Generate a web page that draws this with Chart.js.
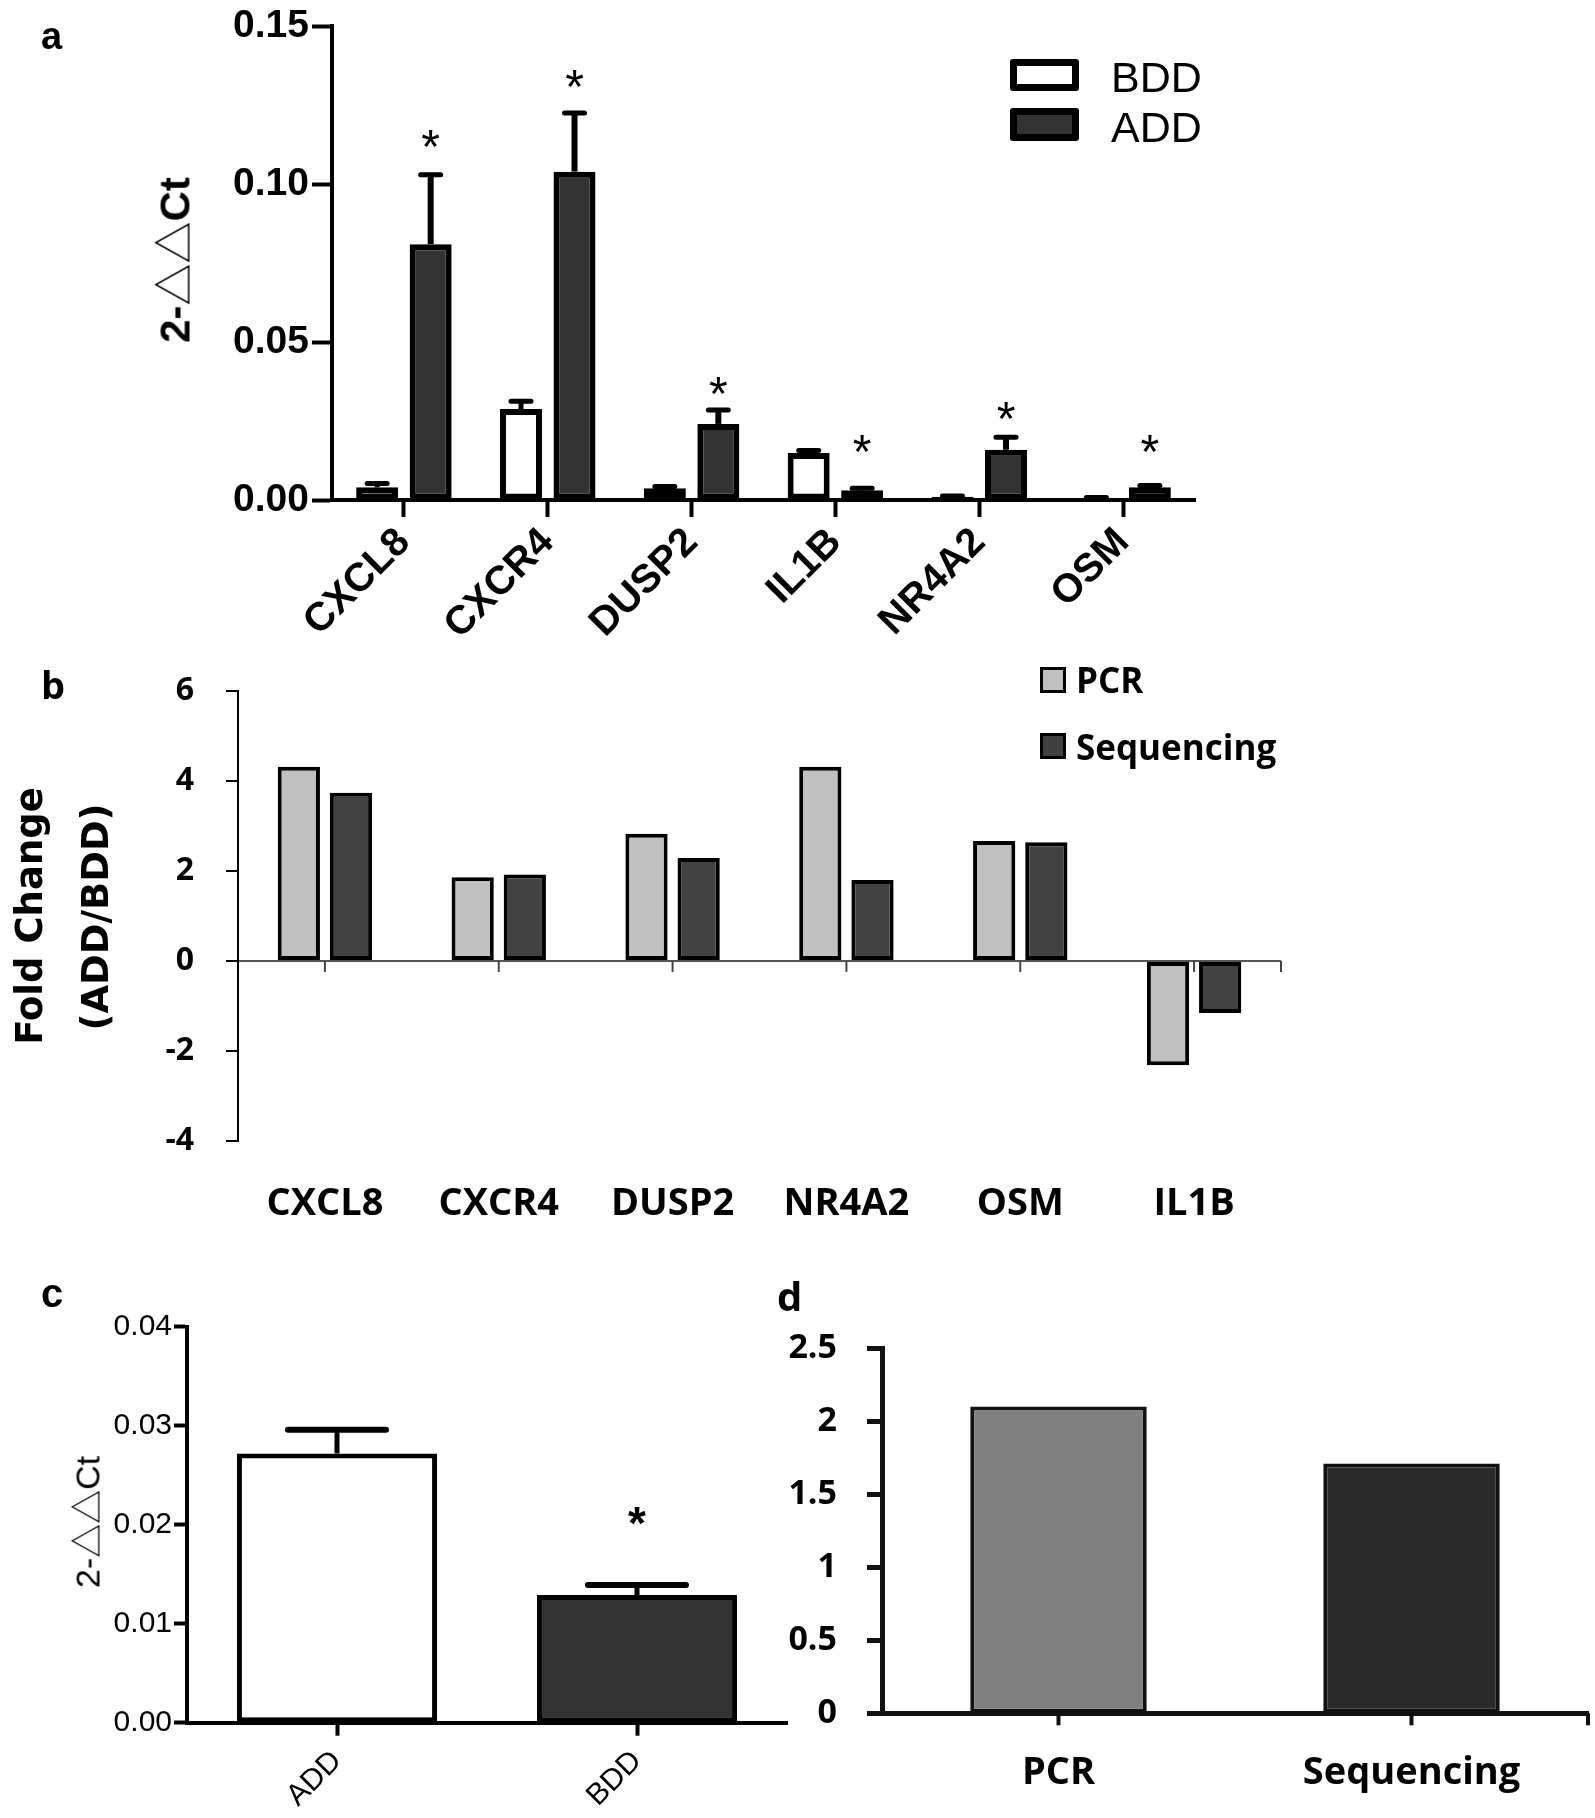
<!DOCTYPE html>
<html><head><meta charset="utf-8">
<script src="https://cdn.jsdelivr.net/npm/chart.js@4.4.1/dist/chart.umd.min.js"></script>
<style>
html,body{margin:0;padding:0;background:#fff;}
body{width:1595px;height:1818px;position:relative;overflow:hidden;}
canvas{position:absolute;}
.t{position:absolute;white-space:nowrap;color:#000;line-height:1;}
.rot{transform:translate(-50%,-50%) rotate(-90deg);}
.tri{font-family:'Noto Sans CJK SC',sans-serif;font-weight:normal;}
.box{position:absolute;box-sizing:border-box;border-style:solid;border-color:#000;}
</style></head><body>
<canvas id="ca" width="1595" height="640" style="left:0;top:0"></canvas>
<canvas id="cb" width="1595" height="600" style="left:0;top:640px"></canvas>
<canvas id="cc" width="800" height="578" style="left:0;top:1240px"></canvas>
<canvas id="cd" width="855" height="578" style="left:740px;top:1240px"></canvas>

<div class="t" style="left:41px;top:15px;font:bold 38px 'Liberation Sans',Arial,sans-serif;">a</div>
<div class="t rot" style="left:171px;top:260px;font:bold 42px 'Liberation Sans',Arial,sans-serif;">2-<span class="tri">△△</span>Ct</div>
<div class="box" style="left:1010px;top:59px;width:69px;height:32px;border-width:7px;background:#fff;border-radius:3px;"></div>
<div class="box" style="left:1010px;top:108px;width:69px;height:33px;border-width:7px;background:#333;border-radius:3px;"></div>
<div class="t" style="left:1111px;top:53px;font:43px 'Liberation Sans',Arial,sans-serif;">BDD</div>
<div class="t" style="left:1111px;top:103px;font:43px 'Liberation Sans',Arial,sans-serif;">ADD</div>

<div class="t" style="left:41px;top:658px;font:bold 38px 'Open Sans',sans-serif;">b</div>
<div class="t rot" style="left:29px;top:916px;font:bold 37px 'DejaVu Sans',sans-serif;">Fold Change</div>
<div class="t rot" style="left:95px;top:917px;font:bold 37px 'DejaVu Sans',sans-serif;">(ADD/BDD)</div>
<div class="box" style="left:1040px;top:667px;width:26px;height:26px;border-width:3px;background:#c0c0c0;"></div>
<div class="box" style="left:1040px;top:733px;width:26px;height:26px;border-width:3px;background:#404040;"></div>
<div class="t" style="left:1076px;top:656px;font:bold 35px 'Open Sans',sans-serif;">PCR</div>
<div class="t" style="left:1076px;top:723px;font:bold 35px 'Open Sans',sans-serif;">Sequencing</div>

<div class="t" style="left:41px;top:1271px;font:bold 40px 'Liberation Sans',Arial,sans-serif;">c</div>
<div class="t rot" style="left:85px;top:1522px;font:34px 'Liberation Sans',Arial,sans-serif;">2-<span class="tri">△△</span>Ct</div>

<div class="t" style="left:777px;top:1268px;font:bold 40px 'Open Sans',sans-serif;">d</div>

<script>
// ---------- Panel a ----------
const genesA = ['CXCL8', 'CXCR4', 'DUSP2', 'IL1B', 'NR4A2', 'OSM'];
const bddA = [0.0040, 0.0288, 0.0037, 0.0149, 0.0010, 0.0006];
const bddErrA = [0.0012, 0.0025, 0.0006, 0.0008, 0.0003, 0.0002];
const addA = [0.0810, 0.1040, 0.0241, 0.0031, 0.0159, 0.0040];
const addErrA = [0.0220, 0.0186, 0.0044, 0.0006, 0.0040, 0.0006];
const starA = [0.1145, 0.1335, 0.0362, 0.0178, 0.0285, 0.0178];
const yTicksA = [0, 0.05, 0.10, 0.15];

// ---------- Panel b ----------
const genesB = ['CXCL8', 'CXCR4', 'DUSP2', 'NR4A2', 'OSM', 'IL1B'];
const pcrB = [4.32, 1.86, 2.83, 4.32, 2.67, -2.32];
const seqB = [3.74, 1.92, 2.29, 1.80, 2.64, -1.16];
const yTicksB = [-4, -2, 0, 2, 4, 6];

// ---------- Panel c ----------
const groupsC = ['ADD', 'BDD'];
const valsC = [0.0272, 0.0129];
const errC = [0.0024, 0.0010];
const starC = [null, 0.0209];
const yTicksC = [0, 0.01, 0.02, 0.03, 0.04];

// ---------- Panel d ----------
const methodsD = ['PCR', 'Sequencing'];
const valsD = [2.10, 1.71];
const yTicksD = [0, 0.5, 1, 1.5, 2, 2.5];

Chart.defaults.animation = false;
Chart.defaults.color = '#000';
Chart.defaults.font.family = "'Liberation Sans', Arial, sans-serif";

const fixW = w => s => { s.width = w; };
const fixH = h => s => { s.height = h; };
const setTicks = vals => s => { s.ticks = vals.map(v => ({ value: v })); };

const errPlugin = {
  id: 'errStars',
  afterDatasetsDraw(chart) {
    const ctx = chart.ctx, y = chart.scales.y;
    chart.data.datasets.forEach((ds, i) => {
      const meta = chart.getDatasetMeta(i);
      meta.data.forEach((bar, j) => {
        const v = ds.data[j];
        if (ds.errors) {
          const yT = y.getPixelForValue(v), yC = y.getPixelForValue(v + ds.errors[j]);
          ctx.save();
          ctx.strokeStyle = '#000';
          ctx.lineWidth = ds.errW;
          ctx.beginPath(); ctx.moveTo(bar.x, yT); ctx.lineTo(bar.x, yC); ctx.stroke();
          ctx.lineWidth = ds.capW; ctx.lineCap = 'round';
          ctx.beginPath(); ctx.moveTo(bar.x - ds.capLen / 2, yC); ctx.lineTo(bar.x + ds.capLen / 2, yC); ctx.stroke();
          ctx.restore();
        }
        if (ds.stars && ds.stars[j] != null) {
          ctx.save();
          ctx.font = ds.starFont; ctx.fillStyle = '#000';
          ctx.textAlign = 'center'; ctx.textBaseline = 'alphabetic';
          const m = ctx.measureText('*');
          const cy = y.getPixelForValue(ds.stars[j]);
          ctx.fillText('*', bar.x, cy + (m.actualBoundingBoxAscent - m.actualBoundingBoxDescent) / 2);
          ctx.restore();
        }
      });
    });
  }
};

const tickPlugin = {
  id: 'catTicks',
  afterDraw(chart, args, o) {
    if (!o || !o.on) return;
    const x = chart.scales.x, y = chart.scales.y, ctx = chart.ctx;
    const y0 = o.zero ? y.getPixelForValue(0) : chart.chartArea.bottom;
    const xs = o.centers ? x.ticks.map((t, i) => x.getPixelForTick(i)) : [];
    if (o.end) xs.push(chart.chartArea.right);
    ctx.save(); ctx.strokeStyle = o.color; ctx.lineWidth = o.width;
    xs.forEach(px => { ctx.beginPath(); ctx.moveTo(px, y0); ctx.lineTo(px, y0 + o.len); ctx.stroke(); });
    ctx.restore();
  }
};

// Panel a
new Chart(document.getElementById('ca'), {
  type: 'bar',
  data: {
    labels: genesA,
    datasets: [
      { label: 'BDD', data: bddA, errors: bddErrA, backgroundColor: '#fff', borderColor: '#000', borderWidth: 6, borderSkipped: false, errW: 5, capW: 5, capLen: 20 },
      { label: 'ADD', data: addA, errors: addErrA, stars: starA, starFont: "48px 'Liberation Sans', Arial", backgroundColor: '#333', borderColor: '#000', borderWidth: 6, borderSkipped: false, errW: 6, capW: 5, capLen: 20 }
    ]
  },
  options: {
    responsive: false,
    layout: { padding: { left: 0, top: 23, right: 400, bottom: 0 } },
    datasets: { bar: { categoryPercentage: 0.744, barPercentage: 0.785 } },
    plugins: { legend: { display: false }, tooltip: { enabled: false } },
    scales: {
      x: {
        offset: true,
        grid: { display: true, drawOnChartArea: false, drawTicks: true, tickLength: 17, tickWidth: 4, tickColor: '#000', offset: false },
        border: { display: true, color: '#000', width: 4 },
        ticks: { font: { size: 40, weight: 'bold' }, maxRotation: 45, minRotation: 45, padding: 2, autoSkip: false },
        afterFit: fixH(140)
      },
      y: {
        min: 0, max: 0.15,
        afterBuildTicks: setTicks(yTicksA),
        grid: { drawOnChartArea: false, tickLength: 20, tickWidth: 4, tickColor: '#000' },
        border: { color: '#000', width: 4 },
        ticks: { font: { size: 39, weight: 'bold' }, padding: 3, callback: v => v.toFixed(2) },
        afterFit: fixW(332)
      }
    }
  },
  plugins: [errPlugin]
});

// Panel b
new Chart(document.getElementById('cb'), {
  type: 'bar',
  data: {
    labels: genesB,
    datasets: [
      { label: 'PCR', data: pcrB, backgroundColor: '#c0c0c0', borderColor: '#000', borderWidth: 4, borderSkipped: false },
      { label: 'Sequencing', data: seqB, backgroundColor: '#424242', borderColor: '#000', borderWidth: 4, borderSkipped: false }
    ]
  },
  options: {
    responsive: false,
    layout: { padding: { left: 0, top: 26, right: 314, bottom: 0 } },
    datasets: { bar: { categoryPercentage: 0.6, barPercentage: 0.81 } },
    plugins: {
      legend: { display: false }, tooltip: { enabled: false },
      catTicks: { on: true, zero: true, centers: true, end: true, len: 11, width: 2, color: '#444' }
    },
    scales: {
      x: {
        offset: true,
        grid: { display: false, drawTicks: false },
        border: { display: false },
        ticks: { font: { family: "'Open Sans', sans-serif", size: 38, weight: 'bold' }, maxRotation: 0, minRotation: 0, padding: 41, autoSkip: false },
        afterFit: fixH(99.3)
      },
      y: {
        min: -4, max: 6,
        afterBuildTicks: setTicks(yTicksB),
        grid: {
          drawOnChartArea: true,
          color: c => (c.tick && c.tick.value === 0) ? '#555' : 'rgba(0,0,0,0)',
          lineWidth: 2, tickLength: 12, tickWidth: 2, tickColor: '#000'
        },
        border: { color: '#000', width: 2 },
        ticks: { font: { family: "'Open Sans', sans-serif", size: 32, weight: 'bold' }, padding: 32 },
        afterFit: fixW(238)
      }
    }
  },
  plugins: [tickPlugin]
});

// Panel c
new Chart(document.getElementById('cc'), {
  type: 'bar',
  data: {
    labels: groupsC,
    datasets: [
      { data: valsC, errors: errC, stars: starC, starFont: "bold 46px 'Liberation Sans', Arial", backgroundColor: ['#fff', '#333'], borderColor: '#000', borderWidth: 5, borderSkipped: false, errW: 5, capW: 6, capLen: 98 }
    ]
  },
  options: {
    responsive: false,
    layout: { padding: { left: 0, top: 86.7, right: 13, bottom: 0 } },
    datasets: { bar: { categoryPercentage: 1, barPercentage: 0.667 } },
    plugins: { legend: { display: false }, tooltip: { enabled: false } },
    scales: {
      x: {
        offset: true,
        grid: { display: true, drawOnChartArea: false, tickLength: 13, tickWidth: 4, tickColor: '#000', offset: false },
        border: { color: '#000', width: 4 },
        ticks: { font: { size: 30 }, maxRotation: 45, minRotation: 45, padding: 8, autoSkip: false },
        afterFit: fixH(95.3)
      },
      y: {
        min: 0, max: 0.04,
        afterBuildTicks: setTicks(yTicksC),
        grid: { drawOnChartArea: false, tickLength: 13, tickWidth: 4, tickColor: '#000' },
        border: { color: '#000', width: 4 },
        ticks: { font: { size: 30 }, padding: 2, callback: v => v.toFixed(2) },
        afterFit: fixW(187)
      }
    }
  },
  plugins: [errPlugin]
});

// Panel d
new Chart(document.getElementById('cd'), {
  type: 'bar',
  data: {
    labels: methodsD,
    datasets: [
      { data: valsD, backgroundColor: ['#808080', '#2a2a2a'], borderColor: '#111', borderWidth: 4, borderSkipped: false }
    ]
  },
  options: {
    responsive: false,
    layout: { padding: { left: 0, top: 108, right: 7, bottom: 0 } },
    datasets: { bar: { categoryPercentage: 1, barPercentage: 0.5 } },
    plugins: {
      legend: { display: false }, tooltip: { enabled: false },
      catTicks: { on: true, zero: false, centers: false, end: true, len: 12, width: 4, color: '#111' }
    },
    scales: {
      x: {
        offset: true,
        grid: { display: true, drawOnChartArea: false, tickLength: 12, tickWidth: 4, tickColor: '#111', offset: false },
        border: { color: '#111', width: 5 },
        ticks: { font: { family: "'Open Sans', sans-serif", size: 38, weight: 'bold' }, maxRotation: 0, minRotation: 0, padding: 25, autoSkip: false },
        afterFit: fixH(104.7)
      },
      y: {
        min: 0, max: 2.5,
        afterBuildTicks: setTicks(yTicksD),
        grid: { drawOnChartArea: false, tickLength: 15, tickWidth: 5, tickColor: '#111' },
        border: { color: '#111', width: 5 },
        ticks: { font: { family: "'Open Sans', sans-serif", size: 34, weight: 'bold' }, padding: 30, callback: v => String(v) },
        afterFit: fixW(142)
      }
    }
  },
  plugins: [tickPlugin]
});
</script>
</body></html>
